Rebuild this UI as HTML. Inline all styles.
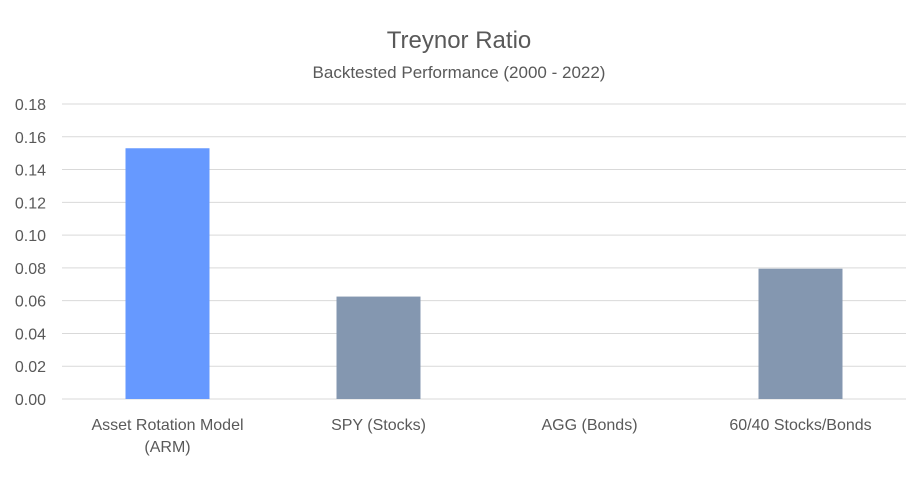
<!DOCTYPE html>
<html><head><meta charset="utf-8"><style>
body{margin:0;background:#fff;}
svg text{font-family:"Liberation Sans",sans-serif;fill:#595959;}
</style></head><body>
<svg width="917" height="482" xmlns="http://www.w3.org/2000/svg">
<text x="459" y="48" text-anchor="middle" font-size="24">Treynor Ratio</text>
<text x="459" y="78" text-anchor="middle" font-size="17">Backtested Performance (2000 - 2022)</text>
<g id="grid"></g><g id="bars"></g><g id="xlabels"></g>
</svg>
<script>
const categories=[["Asset Rotation Model","(ARM)"],["SPY (Stocks)"],["AGG (Bonds)"],["60/40 Stocks/Bonds"]];
const values=[0.153,0.0625,0,0.0795];
const colors=["#6699ff","#8497b0","#8497b0","#8497b0"];
const ticks=[0,0.02,0.04,0.06,0.08,0.10,0.12,0.14,0.16,0.18];
const NS="http://www.w3.org/2000/svg";
const x0=62,x1=906,y0=399,y1=104,ymax=0.18;
const y=v=>y0-(v/ymax)*(y0-y1);
const band=(x1-x0)/categories.length;
const xc=i=>x0+band*(i+0.5);
const g=document.getElementById('grid'),b=document.getElementById('bars'),xl=document.getElementById('xlabels');
ticks.forEach(t=>{
 const l=document.createElementNS(NS,'line');
 
 
 l.setAttribute('x1',x0);l.setAttribute('x2',x1);l.setAttribute('y1',y(t));l.setAttribute('y2',y(t));
 l.setAttribute('stroke','#d9d9d9');l.setAttribute('stroke-width','1');
 g.appendChild(l);
 const tx=document.createElementNS(NS,'text');
 
 
 tx.setAttribute('x',46);tx.setAttribute('y',y(t)+6);tx.setAttribute('text-anchor','end');tx.setAttribute('font-size','16');
 tx.textContent=t.toFixed(2);g.appendChild(tx);
});
values.forEach((v,i)=>{
 const r=document.createElementNS(NS,'rect');
 
 
 const w=84;
 r.setAttribute('x',xc(i)-w/2);r.setAttribute('width',w);
 r.setAttribute('y',y(v));r.setAttribute('height',Math.max(0,y0-y(v)));
 r.setAttribute('fill',colors[i]);b.appendChild(r);
});
categories.forEach((c,i)=>{
 c.forEach((line,j)=>{
  const tx=document.createElementNS(NS,'text');
  
  
  tx.setAttribute('x',xc(i));tx.setAttribute('y',430+j*22);tx.setAttribute('text-anchor','middle');tx.setAttribute('font-size','16');
  tx.textContent=line;xl.appendChild(tx);
 });
});
</script>
</body></html>
